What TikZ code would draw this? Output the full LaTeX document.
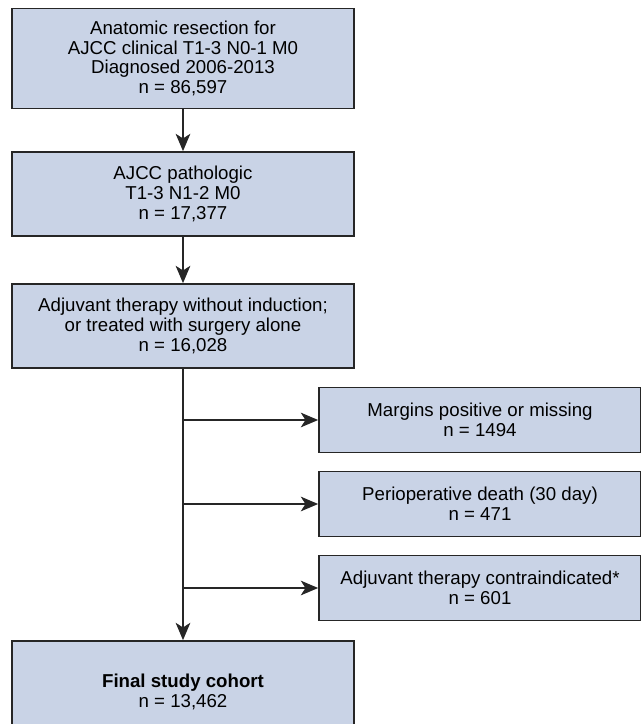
\documentclass[tikz,border=0pt]{standalone}
\usepackage{fontspec}
\setmainfont{Liberation Sans}
\usetikzlibrary{arrows.meta}
\definecolor{cohortFill}{RGB}{201,211,230}
\definecolor{cohortLine}{RGB}{38,38,38}
\newcommand{\cohortFont}{\fontsize{14}{14.7}\selectfont}

\begin{document}
\begin{tikzpicture}[x=0.75pt,y=-0.75pt,
  cohortBox/.style={draw=cohortLine, fill=cohortFill, line width=1.3pt, align=center, inner sep=0pt, font=\cohortFont, minimum width=256.5pt},
  exclBox/.style={cohortBox, minimum width=241.5pt, minimum height=48.75pt},
  cohortArrow/.style={draw=cohortLine, line width=1.3pt, -{Stealth[length=13pt,width=11pt,inset=3.5pt]}}]
\useasboundingbox (0,0) rectangle (640,724);
\node[cohortBox, minimum height=75pt] (resection) at (183,58.5) {Anatomic resection for\\AJCC clinical T1-3 N0-1 M0\\Diagnosed 2006-2013\\n = 86,597};
\node[cohortBox, minimum height=63pt] (pathologic) at (183,194) {AJCC pathologic\\T1-3 N1-2 M0\\n = 17,377};
\node[cohortBox, minimum height=63pt] (adjuvant) at (183,326) {Adjuvant therapy without induction;\\or treated with surgery alone\\n = 16,028};
\node[exclBox] (exclMargins) at (480,420) {Margins positive or missing\\n = 1494};
\node[exclBox] (exclDeath) at (480,504) {Perioperative death (30 day)\\n = 471};
\node[exclBox] (exclContra) at (480,588) {Adjuvant therapy contraindicated*\\n = 601};
\node[cohortBox, minimum height=76.5pt] (final) at (183,692) {\textbf{Final study cohort}\\n = 13,462};
\coordinate (tapMargins) at (183,420);
\coordinate (tapDeath) at (183,504);
\coordinate (tapContra) at (183,588);
\draw[cohortArrow] (resection.south) -- (pathologic.north);
\draw[cohortArrow] (pathologic.south) -- (adjuvant.north);
\draw[cohortArrow] (adjuvant.south) -- (final.north);
\draw[cohortArrow] (tapMargins) -- (exclMargins.west);
\draw[cohortArrow] (tapDeath) -- (exclDeath.west);
\draw[cohortArrow] (tapContra) -- (exclContra.west);
\end{tikzpicture}
\end{document}
